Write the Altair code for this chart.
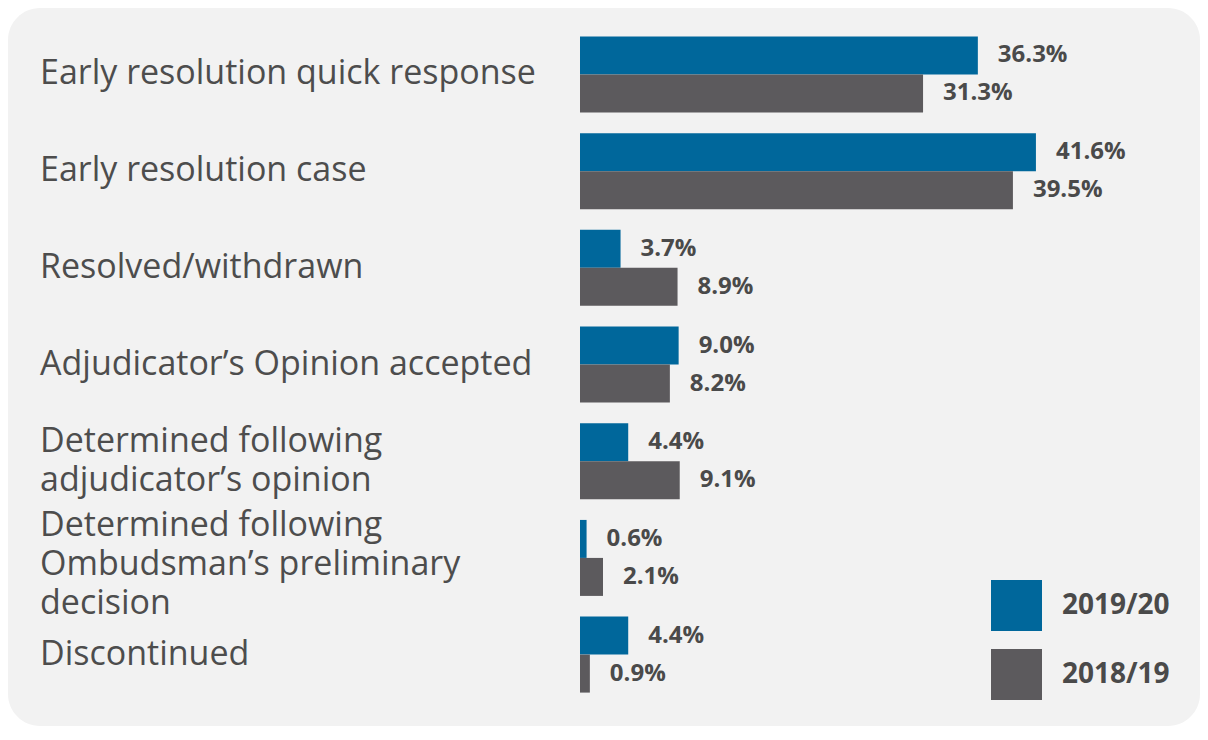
import altair as alt
import pandas as pd

categories = [
    "Early resolution quick response",
    "Early resolution case",
    "Resolved/withdrawn",
    "Adjudicator’s Opinion accepted",
    "Determined following adjudicator’s opinion",
    "Determined following Ombudsman’s preliminary decision",
    "Discontinued",
]
label_lines = [
    ["Early resolution quick response"],
    ["Early resolution case"],
    ["Resolved/withdrawn"],
    ["Adjudicator’s Opinion accepted"],
    ["Determined following", "adjudicator’s opinion"],
    ["Determined following", "Ombudsman’s preliminary", "decision"],
    ["Discontinued"],
]
series = ["2019/20", "2018/19"]
values_2019_20 = [36.3, 41.6, 3.7, 9.0, 4.4, 0.6, 4.4]
values_2018_19 = [31.3, 39.5, 8.9, 8.2, 9.1, 2.1, 0.9]
colors = ["#00679b", "#5c5a5d"]

rows = []
for cat, v1, v2 in zip(categories, values_2019_20, values_2018_19):
    rows.append({"category": cat, "series": series[0], "value": v1, "label": f"{v1:.1f}%"})
    rows.append({"category": cat, "series": series[1], "value": v2, "label": f"{v2:.1f}%"})
bars_df = pd.DataFrame(rows)
labels_df = pd.DataFrame({"category": categories, "lines": label_lines})

W, H = 1192, 718
LINE_H = 39
x_scale = alt.Scale(domain=[0, 50], range=[572, 1120])
y_scale = alt.Scale(domain=categories, range=[28.5, 684.6], paddingInner=0.214, paddingOuter=0)
off_scale = alt.Scale(domain=series, paddingInner=0, paddingOuter=0)

bars = alt.Chart(bars_df).mark_bar().encode(
    x=alt.X("value:Q", scale=x_scale, axis=None),
    y=alt.Y("category:N", scale=y_scale, axis=None),
    yOffset=alt.YOffset("series:N", scale=off_scale),
    color=alt.Color(
        "series:N",
        scale=alt.Scale(domain=series, range=colors),
        legend=alt.Legend(
            title=None,
            orient="none",
            legendX=983,
            legendY=572,
            symbolType="square",
            symbolSize=2601,
            symbolStrokeWidth=0,
            symbolOpacity=1,
            labelFont="Open Sans",
            labelFontSize=28,
            labelFontWeight="bold",
            labelColor="#4a4a4a",
            labelOffset=20,
            rowPadding=18,
            padding=0,
        ),
    ),
)

value_text = alt.Chart(bars_df).mark_text(
    align="left", baseline="middle", dx=20,
    font="Open Sans", fontWeight="bold", fontSize=24, color="#4a4a4a",
).encode(
    x=alt.X("value:Q", scale=x_scale, axis=None),
    y=alt.Y("category:N", scale=y_scale, axis=None),
    yOffset=alt.YOffset("series:N", scale=off_scale),
    text=alt.Text("label:N"),
)

cat_text = alt.Chart(labels_df).mark_text(
    align="left", baseline="middle", lineHeight=LINE_H,
    font="Open Sans", fontSize=34, color="#4d4d4d",
    dy={"expr": f"length(datum.lines) > 2 ? -32 : -(length(datum.lines) - 1) * {LINE_H / 2}"},
).encode(
    x=alt.value(32),
    y=alt.Y("category:N", scale=y_scale, axis=None),
    text=alt.Text("lines:N"),
)

chart = alt.layer(bars, value_text, cat_text).properties(
    width=W, height=H, padding=0, autosize="none", background="white",
).configure_view(
    fill="#f2f2f2", cornerRadius=32, stroke="transparent", strokeWidth=0,
)

chart.save("out.html", embed_options={"renderer": "svg", "actions": False})
